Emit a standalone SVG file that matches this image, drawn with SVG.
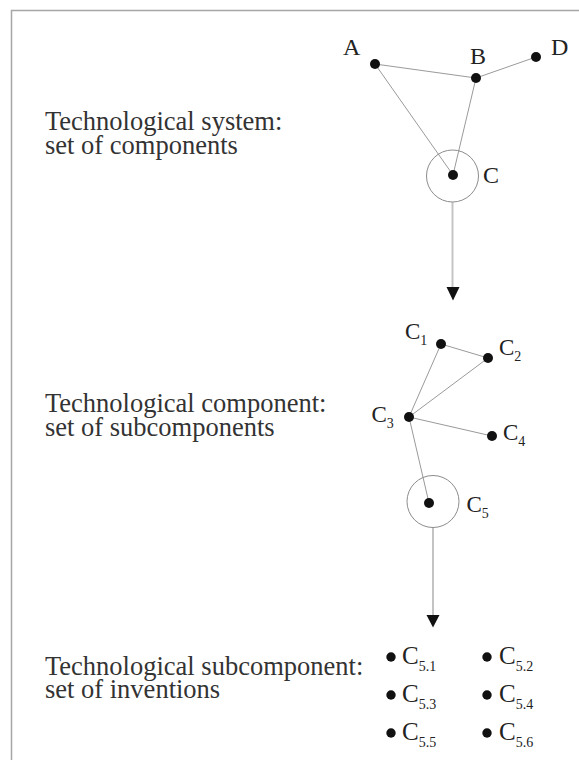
<svg xmlns="http://www.w3.org/2000/svg" width="579" height="760" viewBox="0 0 579 760">
  <style>
    .frame { stroke: #a6a6a6; stroke-width: 1.5; fill: none; }
    .edge { stroke: #9a9a9a; stroke-width: 1; fill: none; }
    .flow { stroke: #c4c4c4; stroke-width: 2; fill: none; }
    .ring { stroke: #8c8c8c; stroke-width: 1; fill: none; }
    .dot { fill: #111; }
    .head { fill: #111; }
    .caption { font-family: "Liberation Serif", "Times New Roman", serif; font-size: 26.5px; fill: #333; }
    .lbl { font-family: "Liberation Serif", "Times New Roman", serif; font-size: 24px; fill: #222; }
    .sub { font-size: 14px; }
    .lbl2 { font-family: "Liberation Serif", "Times New Roman", serif; font-size: 23px; fill: #222; }
    .lbl3 { font-family: "Liberation Serif", "Times New Roman", serif; font-size: 25px; fill: #222; }
  </style>

  <rect width="579" height="760" fill="#fff"/>

  <!-- page frame: top and left rules -->
  <path class="frame" d="M11.5 760 V10.5 H579"/>

  <!-- captions -->
  <g id="caption-system">
    <text class="caption" x="45" y="130">Technological system:</text>
    <text class="caption" x="45" y="154">set of components</text>
  </g>
  <g id="caption-component">
    <text class="caption" x="45" y="412">Technological component:</text>
    <text class="caption" x="45" y="436">set of subcomponents</text>
  </g>
  <g id="caption-subcomponent">
    <text class="caption" x="45" y="675">Technological subcomponent:</text>
    <text class="caption" x="45" y="698">set of inventions</text>
  </g>

  <!-- connectors -->
  <g id="connectors">
    <line class="edge" x1="375" y1="64" x2="476" y2="78"/>
    <line class="edge" x1="476" y1="78" x2="536" y2="57"/>
    <line class="edge" x1="375" y1="64" x2="453" y2="175"/>
    <line class="edge" x1="476" y1="78" x2="453" y2="175"/>

    <line class="edge" x1="441" y1="344" x2="488" y2="358"/>
    <line class="edge" x1="441" y1="344" x2="409" y2="417"/>
    <line class="edge" x1="488" y1="358" x2="409" y2="417"/>
    <line class="edge" x1="409" y1="417" x2="492" y2="436"/>
    <line class="edge" x1="409" y1="417" x2="429" y2="503"/>

    <line class="flow" x1="452.5" y1="202" x2="452.5" y2="288"/>
    <polygon class="head" points="446.5,287 459.5,287 453,300.5"/>
    <line class="flow" x1="433" y1="527.5" x2="433" y2="616"/>
    <polygon class="head" points="426.5,615 439.5,615 433,627.5"/>
  </g>

  <!-- technological system -->
  <g id="node-A">
    <circle class="dot" cx="375" cy="64" r="5"/>
    <text class="lbl" x="343" y="55">A</text>
  </g>
  <g id="node-B">
    <circle class="dot" cx="476" cy="78" r="5"/>
    <text class="lbl" x="470" y="64">B</text>
  </g>
  <g id="node-D">
    <circle class="dot" cx="536" cy="57" r="5"/>
    <text class="lbl" x="551" y="55">D</text>
  </g>
  <g id="node-C">
    <circle class="ring" cx="452.5" cy="176" r="26"/>
    <circle class="dot" cx="453" cy="175" r="5"/>
    <text class="lbl" x="483" y="183">C</text>
  </g>

  <!-- technological component -->
  <g id="node-C1">
    <circle class="dot" cx="441" cy="344" r="5"/>
    <text class="lbl2" x="405" y="339">C<tspan class="sub" dy="6">1</tspan></text>
  </g>
  <g id="node-C2">
    <circle class="dot" cx="488" cy="358" r="5"/>
    <text class="lbl2" x="499" y="355">C<tspan class="sub" dy="6">2</tspan></text>
  </g>
  <g id="node-C3">
    <circle class="dot" cx="409" cy="417" r="5"/>
    <text class="lbl2" x="371.5" y="422">C<tspan class="sub" dy="6">3</tspan></text>
  </g>
  <g id="node-C4">
    <circle class="dot" cx="492" cy="436" r="5"/>
    <text class="lbl2" x="503" y="440">C<tspan class="sub" dy="6">4</tspan></text>
  </g>
  <g id="node-C5">
    <circle class="ring" cx="433" cy="501.5" r="26"/>
    <circle class="dot" cx="429" cy="503" r="5"/>
    <text class="lbl2" x="466.5" y="512">C<tspan class="sub" dy="6">5</tspan></text>
  </g>

  <!-- technological subcomponent: inventions -->
  <g id="node-C5-1">
    <circle class="dot" cx="391" cy="657" r="4.7"/>
    <text class="lbl3" x="402" y="664">C<tspan class="sub" dy="7">5.1</tspan></text>
  </g>
  <g id="node-C5-2">
    <circle class="dot" cx="487" cy="657" r="4.7"/>
    <text class="lbl3" x="499" y="664">C<tspan class="sub" dy="7">5.2</tspan></text>
  </g>
  <g id="node-C5-3">
    <circle class="dot" cx="391" cy="695" r="4.7"/>
    <text class="lbl3" x="402" y="702">C<tspan class="sub" dy="7">5.3</tspan></text>
  </g>
  <g id="node-C5-4">
    <circle class="dot" cx="487" cy="695" r="4.7"/>
    <text class="lbl3" x="499" y="702">C<tspan class="sub" dy="7">5.4</tspan></text>
  </g>
  <g id="node-C5-5">
    <circle class="dot" cx="391" cy="733" r="4.7"/>
    <text class="lbl3" x="402" y="740">C<tspan class="sub" dy="7">5.5</tspan></text>
  </g>
  <g id="node-C5-6">
    <circle class="dot" cx="487" cy="733" r="4.7"/>
    <text class="lbl3" x="499" y="740">C<tspan class="sub" dy="7">5.6</tspan></text>
  </g>
</svg>
